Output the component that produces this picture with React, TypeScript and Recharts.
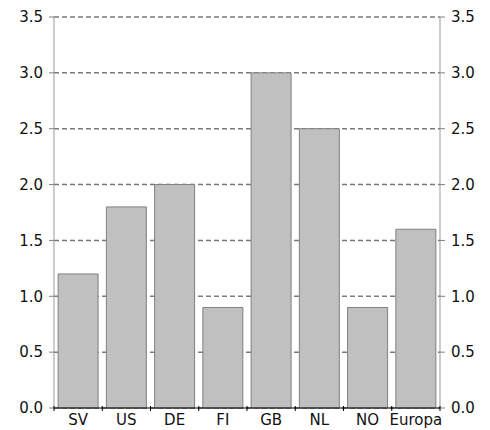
import React from 'react';
import { ComposedChart, Bar, Line, XAxis, YAxis, CartesianGrid } from 'recharts';

const categories = ['SV', 'US', 'DE', 'FI', 'GB', 'NL', 'NO', 'Europa'];
const values = [1.2, 1.8, 2.0, 0.9, 3.0, 2.5, 0.9, 1.6];
const yTicks = [0, 0.5, 1.0, 1.5, 2.0, 2.5, 3.0, 3.5];

const data = categories.map((c, i) => ({ name: c, value: values[i] }));

const W = 490;
const H = 430;
const LEFT_W = 54;
const RIGHT_W = 50;
const FONT = '"DejaVu Sans", Verdana, sans-serif';
const FS = 15;

const XTick = (props: any) => {
  const { x, y, payload, index, visibleTicksCount } = props;
  const half = payload && payload.offset ? payload.offset : (W - LEFT_W - RIGHT_W) / categories.length / 2;
  const last = index === (visibleTicksCount ?? categories.length) - 1;
  return (
    <g>
      <line x1={x - half} x2={x - half} y1={y - 8} y2={y - 3} stroke="#000" />
      {last && <line x1={x + half} x2={x + half} y1={y - 8} y2={y - 3} stroke="#000" />}
      <text x={x} y={y} dy="0.71em" textAnchor="middle" fontSize={FS} fontFamily={FONT} fill="#111">
        {payload.value}
      </text>
    </g>
  );
};

export default function App() {
  return (
    <div style={{ position: 'absolute', left: 0, top: 0 }}>
      <ComposedChart width={W} height={H} data={data} margin={{ top: 17, right: 0, bottom: 0, left: 0 }} barCategoryGap="8.5%">
        <CartesianGrid yAxisId="left" vertical={false} stroke="#7a7a7a" strokeWidth={1.5} strokeDasharray="5 3" />
        <XAxis
          dataKey="name"
          height={22}
          axisLine={{ stroke: '#000' }}
          tickLine={false}
          tickMargin={0}
          interval={0}
          tick={<XTick />}
        />
        <YAxis
          yAxisId="left"
          orientation="left"
          width={LEFT_W}
          domain={[0, 3.5]}
          ticks={yTicks}
          interval={0}
          tickFormatter={(v: number) => v.toFixed(1)}
          axisLine={{ stroke: '#999' }}
          tickLine={{ stroke: '#808080' }}
          tickSize={5}
          tickMargin={6}
          tick={{ fontSize: FS, fontFamily: FONT, fill: '#111' }}
        />
        <YAxis
          yAxisId="right"
          orientation="right"
          width={RIGHT_W}
          domain={[0, 3.5]}
          ticks={yTicks}
          interval={0}
          tickFormatter={(v: number) => v.toFixed(1)}
          axisLine={{ stroke: '#999' }}
          tickLine={{ stroke: '#808080' }}
          tickSize={5}
          tickMargin={6}
          tick={{ fontSize: FS, fontFamily: FONT, fill: '#111' }}
        />
        <Bar yAxisId="left" dataKey="value" fill="#c0c0c0" stroke="#808080" strokeWidth={1} isAnimationActive={false} />
        <Line yAxisId="right" dataKey="value" stroke="none" dot={false} activeDot={false} isAnimationActive={false} />
      </ComposedChart>
    </div>
  );
}
